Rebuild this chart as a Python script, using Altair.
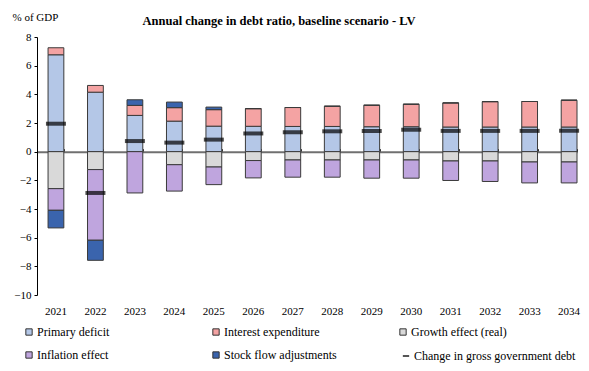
import altair as alt
import pandas as pd

years = ["2021", "2022", "2023", "2024", "2025", "2026", "2027",
         "2028", "2029", "2030", "2031", "2032", "2033", "2034"]

primary_deficit = [6.76, 4.15, 2.53, 2.13, 1.78, 1.77, 1.76, 1.76, 1.74, 1.74, 1.72, 1.72, 1.72, 1.72]
interest_exp = [0.49, 0.47, 0.70, 0.94, 1.15, 1.23, 1.32, 1.41, 1.50, 1.57, 1.68, 1.77, 1.78, 1.87]
growth_effect = [-2.58, -1.25, 0.0, -0.91, -1.07, -0.62, -0.58, -0.58, -0.58, -0.58, -0.65, -0.65, -0.72, -0.72]
inflation_effect = [-1.51, -4.93, -2.88, -1.84, -1.23, -1.21, -1.20, -1.20, -1.27, -1.27, -1.36, -1.43, -1.46, -1.46]
stock_flow = [-1.23, -1.40, 0.39, 0.39, 0.18, 0.0, 0.0, 0.0, 0.0, 0.0, 0.0, 0.0, 0.0, 0.0]
change_debt = [1.95, -2.88, 0.74, 0.63, 0.84, 1.27, 1.36, 1.42, 1.44, 1.53, 1.45, 1.45, 1.45, 1.46]

series_names = ["Primary deficit", "Interest expenditure", "Growth effect (real)",
                "Inflation effect", "Stock flow adjustments"]
series_colors = ["#B4C7E7", "#F4A3A3", "#D9D9D9", "#BFA5DE", "#3A64AD"]
change_name = "Change in gross government debt"

comp_values = [primary_deficit, interest_exp, growth_effect, inflation_effect, stock_flow]
rows = []
for k, vals in enumerate(comp_values):
    for y, v in zip(years, vals):
        rows.append({"year": y, "series": series_names[k], "idx": k, "value": v})
df_bars = pd.DataFrame(rows)
df_chg = pd.DataFrame({"year": years, "series2": change_name, "value": change_debt})

FONT = "Times New Roman, Liberation Serif, serif"
x_scale = alt.Scale(paddingInner=0.6, paddingOuter=0.14, align=1)
y_scale = alt.Scale(domain=[-10, 8], nice=False)


def y_axis():
    return alt.Axis(values=list(range(-10, 9, 2)), title="% of GDP",
                    grid=False, domainColor="black", tickColor="black",
                    tickSize=3, labelFont=FONT, labelFontSize=11,
                    labelColor="black", labelPadding=3, labelOverlap=False,
                    titleAngle=0, titleAlign="left", titleBaseline="middle",
                    titleX=-25, titleY=-20, titleFont=FONT,
                    titleFontSize=11, titleFontWeight="normal",
                    titleColor="black")


bars = alt.Chart(df_bars).mark_bar(stroke="#3a3a3a", strokeWidth=1).encode(
    x=alt.X("year:N", sort=years, scale=x_scale,
            axis=alt.Axis(orient="bottom", title=None, domain=False, ticks=False,
                          labelAngle=0, labelFont=FONT, labelFontSize=11,
                          labelColor="black", labelPadding=10)),
    y=alt.Y("value:Q", stack="zero", scale=y_scale, axis=y_axis()),
    color=alt.Color("series:N", scale=alt.Scale(domain=series_names, range=series_colors),
                    legend=alt.Legend(orient="none", legendX=-14, legendY=289,
                                      columns=3, direction="horizontal", title=None,
                                      symbolType="square",
                                      symbolSize=40, symbolStrokeColor="#333",
                                      symbolStrokeWidth=1, labelFont=FONT,
                                      labelFontSize=12, labelColor="black",
                                      rowPadding=11, columnPadding=60,
                                      gridAlign="all", labelOffset=2)),
    order=alt.Order("idx:Q"),
)

marks = alt.Chart(df_chg).mark_tick(thickness=4, size=20).encode(
    x=alt.X("year:N", sort=years, scale=x_scale,
            axis=alt.Axis(orient="top", offset=-114.67, labels=False, title=None,
                          domainColor="#707070", domainWidth=2, tickBand="extent",
                          tickSize=3, tickColor="#333")),
    y=alt.Y("value:Q", scale=y_scale, axis=y_axis()),
    fill=alt.Fill("series2:N", scale=alt.Scale(domain=[change_name], range=["#000000"]),
                  legend=alt.Legend(orient="none", legendX=363, legendY=313,
                                    title=None, symbolType="M-1,-0.3H1V0.3H-1Z",
                                    symbolSize=40, symbolStrokeWidth=0,
                                    labelFont=FONT, labelFontSize=12, labelLimit=300,
                                    labelColor="black", labelOffset=2)),
)

chart = alt.layer(bars, marks).resolve_axis(x="independent").properties(
    width=540, height=258,
    autosize=alt.AutoSizeParams(type="none"),
    padding={"left": 29, "top": 29, "right": 4, "bottom": 68},
    title=alt.TitleParams("Annual change in debt  ratio, baseline scenario - LV",
                          font=FONT, fontSize=12.5, fontWeight="bold",
                          color="black", anchor="middle", dx=-28, offset=0, dy=16),
).configure(font=FONT).configure_axis(
    labelFont=FONT, titleFont=FONT, labelOverlap=False
).configure_legend(
    labelFont=FONT, labelLimit=300
).configure_view(stroke=None)

chart.save("out.html", embed_options={"renderer": "svg", "actions": False})
